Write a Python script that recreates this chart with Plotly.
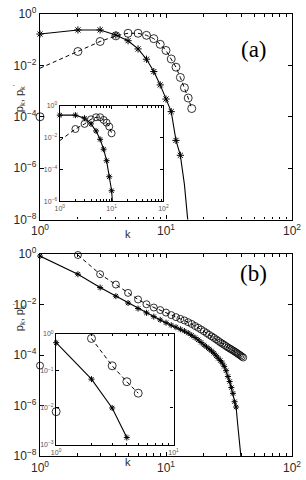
import plotly.graph_objects as go

# ---------------- data (log10 of probabilities) -------------
# Panel (a), main
a_star_k = [1, 2, 3, 4, 5, 6, 7, 8, 9, 10, 11, 12, 13]
a_star_lp = [-0.78, -0.62, -0.62, -0.82, -1.04, -1.36, -1.76, -2.24, -2.76, -3.31, -3.80, -4.92, -5.50]
a_star_tail_k = [14, 15]
a_star_tail_lp = [-6.63, -8.2]
a_circ_k = [2, 3, 4, 5, 6, 7, 8, 9, 10, 11, 12, 13, 14, 15, 16]
a_circ_lp = [-1.46, -1.07, -0.85, -0.75, -0.75, -0.83, -0.96, -1.18, -1.42, -1.75, -2.07, -2.47, -2.87, -3.27, -3.68]
a_circ_lead_k = [1]
a_circ_lead_lp = [-2.11]
a_stray_k = [1]
a_stray_lp = [-4.0]

# Panel (a), inset
ia_star_k = [1, 2, 3, 4, 5, 6, 7, 8, 9, 10]
ia_star_lp = [-0.58, -0.58, -0.77, -1.13, -1.57, -2.10, -2.72, -3.44, -4.45, -5.33]
ia_star_tail_k = [10.5]
ia_star_tail_lp = [-6.3]
ia_circ_k = [2, 3, 4, 5, 6, 7, 8, 9, 10]
ia_circ_lp = [-1.45, -1.13, -0.84, -0.71, -0.71, -0.88, -1.05, -1.30, -1.72]
ia_circ_lead_k = [1]
ia_circ_lead_lp = [-2.18]

# Panel (b), main
b_star_k = list(range(1, 37))
b_star_lp = [-0.08, -0.80, -1.33, -1.67, -1.94, -2.16, -2.33, -2.48, -2.61, -2.72,
             -2.82, -2.90, -2.98, -3.05, -3.13, -3.22, -3.31, -3.40, -3.50, -3.60,
             -3.68, -3.76, -3.84, -3.93, -4.03, -4.13, -4.22, -4.32, -4.45, -4.62,
             -4.85, -5.05, -5.29, -5.52, -5.85, -6.06]
b_star_tail_k = [37, 38, 39, 40]
b_star_tail_lp = [-6.7, -7.3, -7.8, -8.4]
b_circ_k = list(range(2, 42))
b_circ_lp = [-0.04, -0.80, -1.21, -1.54, -1.80, -1.99, -2.12, -2.22, -2.32, -2.42,
             -2.50, -2.57, -2.63, -2.70, -2.77, -2.85, -2.92, -2.99, -3.06, -3.13,
             -3.20, -3.26, -3.32, -3.38, -3.44, -3.50, -3.55, -3.60, -3.65, -3.70,
             -3.74, -3.78, -3.82, -3.86, -3.90, -3.94, -3.98, -4.02, -4.06, -4.10]
b_stray_k = [1]
b_stray_lp = [-4.42]

# Panel (b), inset
ib_star_k = [1, 2, 3, 4]
ib_star_lp = [-0.235, -1.22, -2.0, -2.8]
ib_circ_k = [2, 3, 4, 5]
ib_circ_lp = [-0.12, -0.86, -1.29, -1.6]
ib_stray_k = [1]
ib_stray_lp = [-2.1]

# tick labels
main_x_ticks = [1, 10, 100]
main_x_text = ["10<sup>0</sup>", "10<sup>1</sup>", "10<sup>2</sup>"]
main_y_ticks = [1, 1e-2, 1e-4, 1e-6, 1e-8]
main_y_text = ["10<sup>0</sup>", "10<sup>−2</sup>", "10<sup>−4</sup>", "10<sup>−6</sup>", "10<sup>−8</sup>"]
ia_y_ticks = [1, 1e-2, 1e-4, 1e-6]
ia_y_text = ["10<sup>0</sup>", "10<sup>−2</sup>", "10<sup>−4</sup>", "10<sup>−6</sup>"]
ib_x_ticks = [1, 10]
ib_x_text = ["10<sup>0</sup>", "10<sup>1</sup>"]
ib_y_ticks = [1, 1e-1, 1e-2, 1e-3]
ib_y_text = ["10<sup>0</sup>", "10<sup>−1</sup>", "10<sup>−2</sup>", "10<sup>−3</sup>"]


def P(lp):
    return [10 ** v for v in lp]


fig = go.Figure()
BLACK = "black"


def add_set(xa, ya, star_k, star_lp, tail_k, tail_lp, circ_k, circ_lp,
            lead_k, lead_lp, stray_k, stray_lp, ssize, csize):
    # solid line through stars (+ tail down to the axis)
    fig.add_trace(go.Scatter(x=star_k + tail_k, y=P(star_lp + tail_lp), mode="lines",
                             line=dict(color=BLACK, width=1.1), xaxis=xa, yaxis=ya,
                             showlegend=False, hoverinfo="skip"))
    # dashed line through circles
    fig.add_trace(go.Scatter(x=lead_k + circ_k, y=P(lead_lp + circ_lp), mode="lines",
                             line=dict(color=BLACK, width=1, dash="4px,3px"), xaxis=xa, yaxis=ya,
                             showlegend=False, hoverinfo="skip"))
    fig.add_trace(go.Scatter(x=circ_k, y=P(circ_lp), mode="markers",
                             marker=dict(symbol="circle-open", size=csize, color=BLACK,
                                         line=dict(width=0.8, color=BLACK)),
                             xaxis=xa, yaxis=ya, cliponaxis=False, showlegend=False))
    fig.add_trace(go.Scatter(x=star_k, y=P(star_lp), mode="markers",
                             marker=dict(symbol="asterisk-open", size=ssize, color=BLACK,
                                         line=dict(width=1.0, color=BLACK)),
                             xaxis=xa, yaxis=ya, cliponaxis=False, showlegend=False))
    if stray_k:
        fig.add_trace(go.Scatter(x=stray_k, y=P(stray_lp), mode="markers",
                                 marker=dict(symbol="circle-open", size=csize, color=BLACK,
                                             line=dict(width=0.8, color=BLACK)),
                                 xaxis=xa, yaxis=ya, cliponaxis=False, showlegend=False))


add_set("x", "y", a_star_k, a_star_lp, a_star_tail_k, a_star_tail_lp, a_circ_k, a_circ_lp,
        a_circ_lead_k, a_circ_lead_lp, a_stray_k, a_stray_lp, 6, 8)
add_set("x2", "y2", ia_star_k, ia_star_lp, ia_star_tail_k, ia_star_tail_lp, ia_circ_k, ia_circ_lp,
        ia_circ_lead_k, ia_circ_lead_lp, [], [], 5, 7)
add_set("x3", "y3", b_star_k, b_star_lp, b_star_tail_k, b_star_tail_lp, b_circ_k, b_circ_lp,
        [], [], b_stray_k, b_stray_lp, 5, 7)
add_set("x4", "y4", ib_star_k, ib_star_lp, [], [], ib_circ_k, ib_circ_lp,
        [], [], ib_stray_k, ib_stray_lp, 5, 8)

minor_x2 = [m * 10 ** d for d in range(2) for m in range(2, 10)]
minor_x1 = [m for m in range(2, 10)]

main_font = dict(family="Liberation Sans, Arial, sans-serif", size=12, color="#2a2a2a")
inset_font = dict(family="Liberation Sans, Arial, sans-serif", size=7, color="#555")


def xax(domain, anchor, rng, tv, tt, minor_vals, font, ticklen):
    return dict(type="log", domain=domain, anchor=anchor, range=rng, tickmode="array",
                tickvals=tv, ticktext=tt, ticks="inside", ticklen=ticklen, tickwidth=1,
                tickcolor=BLACK, showline=True, linecolor=BLACK, linewidth=1.3,
                mirror="ticks", showgrid=False, zeroline=False, tickfont=font,
                minor=dict(tickvals=minor_vals, ticks="inside", ticklen=ticklen * 0.6,
                           tickcolor=BLACK, showgrid=False))


def yax(domain, anchor, rng, tv, tt, font, ticklen):
    return dict(type="log", domain=domain, anchor=anchor, range=rng, tickmode="array",
                tickvals=tv, ticktext=tt, ticks="inside", ticklen=ticklen, tickwidth=1,
                tickcolor=BLACK, showline=True, linecolor=BLACK, linewidth=1.3,
                mirror="ticks", showgrid=False, zeroline=False, tickfont=font)


fig.update_layout(
    width=306, height=480,
    margin=dict(l=40, r=5, t=14, b=24),
    paper_bgcolor="white", plot_bgcolor="white",
    showlegend=False,
    xaxis=xax([0, 1], "y", [0, 2], main_x_ticks, main_x_text, minor_x2, main_font, 4),
    yaxis=yax([0.535, 1], "x", [-8, 0], main_y_ticks, main_y_text, main_font, 4),
    xaxis2=xax([0.0785, 0.490], "y2", [0, 2], main_x_ticks, main_x_text, minor_x2, inset_font, 3),
    yaxis2=yax([0.576, 0.792], "x2", [-6, 0], ia_y_ticks, ia_y_text, inset_font, 3),
    xaxis3=xax([0, 1], "y3", [0, 2], main_x_ticks, main_x_text, minor_x2, main_font, 4),
    yaxis3=yax([0, 0.457], "x3", [-8, 0], main_y_ticks, main_y_text, main_font, 4),
    xaxis4=xax([0.064, 0.530], "y4", [0, 1], ib_x_ticks, ib_x_text, minor_x1, inset_font, 3),
    yaxis4=yax([0.025, 0.276], "x4", [-3, 0], ib_y_ticks, ib_y_text, inset_font, 3),
)

ann_font = dict(family="Liberation Sans, Arial, sans-serif", size=11, color="#2a2a2a")
fig.add_annotation(text="(a)", x=0.907, y=0.9525, xref="paper", yref="paper", showarrow=False,
                   font=dict(family="Liberation Serif, Times New Roman, serif", size=23, color=BLACK))
fig.add_annotation(text="(b)", x=0.91, y=0.414, xref="paper", yref="paper", showarrow=False,
                   font=dict(family="Liberation Serif, Times New Roman, serif", size=23, color=BLACK))
fig.add_annotation(text="k", x=0.349, y=0.502, xref="paper", yref="paper", showarrow=False, font=ann_font)
fig.add_annotation(text="k", x=0.349, y=-0.032, xref="paper", yref="paper", showarrow=False, font=ann_font)
fig.add_annotation(text="p<sub>k</sub>, p<sub>k</sub><sup>'</sup>", x=-0.1226, y=0.846, xref="paper",
                   yref="paper", showarrow=False, textangle=-90, font=ann_font)
fig.add_annotation(text="p<sub>k</sub>, p<sub>k</sub><sup>'</sup>", x=-0.1226, y=0.278, xref="paper",
                   yref="paper", showarrow=False, textangle=-90, font=ann_font)

fig.write_html("out.html")
